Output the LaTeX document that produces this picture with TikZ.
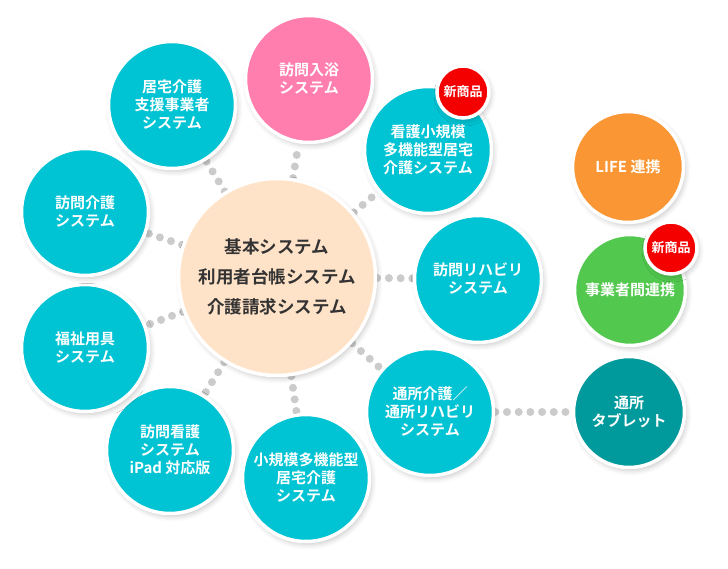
\documentclass[tikz,border=0pt]{standalone}
\usepackage{fontspec}
\setmainfont{Noto Sans CJK JP}[BoldFont=* Bold]
\usetikzlibrary{shadows.blur, backgrounds}
\definecolor{kgTeal}{HTML}{00C3D3}
\definecolor{kgPink}{HTML}{FF7EAD}
\definecolor{kgPeach}{HTML}{FFE3C8}
\definecolor{kgRed}{HTML}{F50000}
\definecolor{kgOrange}{HTML}{FA9734}
\definecolor{kgGreen}{HTML}{52C94E}
\definecolor{kgDeep}{HTML}{00999C}
\definecolor{kgDot}{HTML}{CBCBCB}
\definecolor{kgText}{HTML}{333333}

\begin{document}
\begin{tikzpicture}[x=1pt, y=-1pt,
  every node/.style={circle, draw=white, line width=3.5pt, align=center, inner sep=0pt,
                     text=white, font=\fontsize{15}{18}\selectfont\bfseries,
                     blur shadow={shadow xshift=2pt, shadow yshift=-3pt,
                                  shadow blur radius=5pt, shadow opacity=22}},
  sys/.style={fill=kgTeal, minimum size=127pt},
  side/.style={minimum size=111pt},
  badge/.style={fill=kgRed, minimum size=52pt, font=\fontsize{13}{15}\selectfont\bfseries},
  link/.style={draw=kgDot, line width=8pt, line cap=round, dash pattern=on 0pt off 11.7pt}]
  \useasboundingbox (0,0) rectangle (728,569);
  \node[fill=kgPeach, minimum size=197pt, text=kgText,
        font=\fontsize{17.5}{30}\selectfont\bfseries] (base) at (277,277)
        {基本システム\\利用者台帳システム\\介護請求システム};
  \node[sys, fill=kgPink] (nyuyoku) at (309,79) {訪問入浴\\システム};
  \node[sys] (kantaki) at (428,150) {看護小規模\\多機能型居宅\\介護システム};
  \node[sys] (reha) at (478,279) {訪問リハビリ\\システム};
  \node[sys] (tsusho) at (430,412) {通所介護／\\通所リハビリ\\システム};
  \node[sys] (shoki) at (306,478) {小規模多機能型\\居宅介護\\システム};
  \node[sys] (kango) at (170,450) {訪問看護\\システム\\iPad 対応版};
  \node[sys] (fukushi) at (85,348) {福祉用具\\システム};
  \node[sys] (houkai) at (85,212) {訪問介護\\システム};
  \node[sys] (kyotaku) at (172,105) {居宅介護\\支援事業者\\システム};
  \node[side, fill=kgOrange] (life) at (628,167) {LIFE 連携};
  \node[side, fill=kgGreen] (renkei) at (630,290) {事業者間連携};
  \node[side, fill=kgDeep] (tablet) at (629,412) {通所\\タブレット};
  \node[badge] (new1) at (463,92) {新商品};
  \node[badge] (new2) at (671,248) {新商品};
  \begin{scope}[on background layer]
    \foreach \s in {nyuyoku, kantaki, reha, tsusho, shoki, kango, fukushi, houkai, kyotaku}
      \draw[link] (base) -- (\s);
    \draw[link] (tsusho) -- (tablet);
  \end{scope}
\end{tikzpicture}
\end{document}
